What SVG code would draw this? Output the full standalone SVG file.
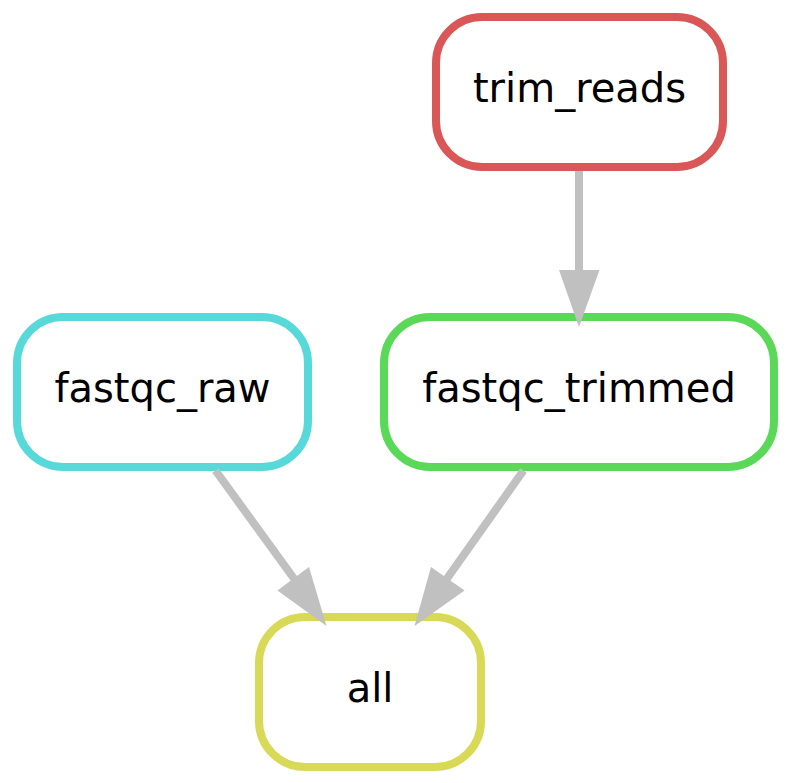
<svg xmlns="http://www.w3.org/2000/svg" width="792" height="783" viewBox="0 0 792 783">
<style>
.node rect{fill:#ffffff;stroke-width:8}
.node text{font-family:"DejaVu Sans","Liberation Sans",sans-serif;font-size:40px;fill:#000000;text-anchor:middle}
.edge line{stroke:#c0c0c0;stroke-width:8}
.edge polygon{fill:#c0c0c0;stroke:none}
</style>
<rect x="0" y="0" width="792" height="783" fill="#ffffff"/>
<g class="node" id="trim_reads">
<rect x="436" y="17" width="287" height="150" rx="46" ry="46" stroke="#d95757"/>
<text x="579.5" y="102">trim_reads</text>
</g>
<g class="node" id="fastqc_raw">
<rect x="17" y="317" width="291" height="150" rx="46" ry="46" stroke="#57d9d9"/>
<text x="162.5" y="402">fastqc_raw</text>
</g>
<g class="node" id="fastqc_trimmed">
<rect x="384" y="317" width="390" height="150" rx="46" ry="46" stroke="#59d957"/>
<text x="579" y="402">fastqc_trimmed</text>
</g>
<g class="node" id="all">
<rect x="259" y="617" width="222" height="150" rx="46" ry="46" stroke="#d7d957"/>
<text x="370" y="702">all</text>
</g>
<g id="connectors">
<g class="edge" id="e_trim_fastqc_trimmed">
<line x1="579" y1="171" x2="579" y2="272"/>
<polygon points="559,270 599.5,270 579,327"/>
</g>
<g class="edge" id="e_raw_all">
<line x1="215.5" y1="470.5" x2="295" y2="580"/>
<polygon points="277.5,590.5 309,567 326.5,626"/>
</g>
<g class="edge" id="e_trimmed_all">
<line x1="523.5" y1="470.5" x2="446" y2="580"/>
<polygon points="431,567 464.5,590.5 414.5,626"/>
</g>
</g>
</svg>
